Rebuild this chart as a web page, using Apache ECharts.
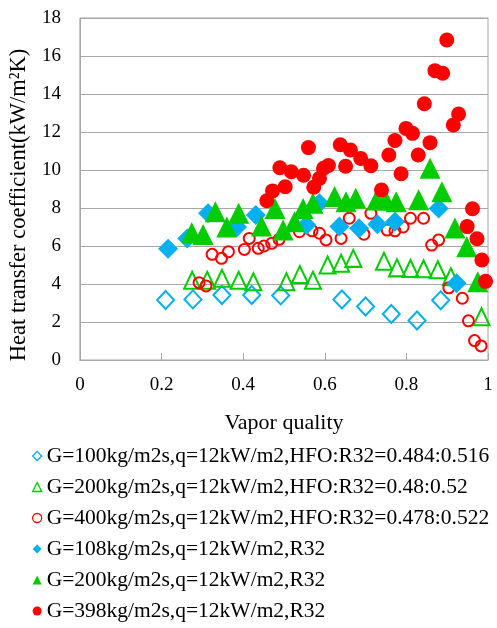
<!DOCTYPE html>
<html><head><meta charset="utf-8">
<script src="https://cdn.jsdelivr.net/npm/echarts@6/dist/echarts.min.js"></script>
<style>html,body{margin:0;padding:0;background:#fff}#c{width:497px;height:628px}</style>
</head><body><div id="c"></div>
<script>
var xTicks = [0, 0.2, 0.4, 0.6, 0.8, 1];
var yTicks = [0, 2, 4, 6, 8, 10, 12, 14, 16, 18];
var seriesNames = [
  'G=100kg/m2s,q=12kW/m2,HFO:R32=0.484:0.516',
  'G=200kg/m2s,q=12kW/m2,HFO:R32=0.48:0.52',
  'G=400kg/m2s,q=12kW/m2,HFO:R32=0.478:0.522',
  'G=108kg/m2s,q=12kW/m2,R32',
  'G=200kg/m2s,q=12kW/m2,R32',
  'G=398kg/m2s,q=12kW/m2,R32'
];
var mix100 = [[0.210,3.16],[0.277,3.19],[0.348,3.42],[0.421,3.42],[0.492,3.40],[0.642,3.18],[0.700,2.82],[0.763,2.42],[0.826,2.08],[0.884,3.14]];
var mix200 = [[0.275,4.2],[0.312,4.2],[0.348,4.3],[0.389,4.2],[0.425,4.12],[0.506,4.12],[0.539,4.5],[0.571,4.2],[0.607,5.0],[0.640,5.09],[0.670,5.35],[0.745,5.2],[0.777,4.85],[0.810,4.82],[0.842,4.8],[0.877,4.75],[0.909,4.38],[0.984,2.28]];
var mix400 = [[0.292,4.07],[0.309,3.9],[0.324,5.56],[0.347,5.35],[0.364,5.7],[0.403,5.82],[0.415,6.4],[0.437,5.88],[0.451,6.0],[0.470,6.14],[0.488,6.35],[0.538,6.75],[0.569,6.8],[0.587,6.67],[0.603,6.32],[0.640,6.4],[0.660,7.46],[0.696,6.62],[0.713,7.72],[0.753,6.84],[0.772,6.8],[0.792,7.0],[0.810,7.46],[0.842,7.46],[0.862,6.05],[0.879,6.32],[0.904,3.8],[0.937,3.25],[0.952,2.06],[0.967,1.02],[0.983,0.74]];
var r32_108 = [[0.216,5.85],[0.263,6.4],[0.314,7.72],[0.385,7.0],[0.431,7.63],[0.555,7.1],[0.587,8.25],[0.636,7.02],[0.684,6.93],[0.729,7.15],[0.772,7.27],[0.879,7.98],[0.923,4.04]];
var r32_200 = [[0.274,6.7],[0.302,6.6],[0.332,7.8],[0.360,7.0],[0.389,7.72],[0.445,7.05],[0.478,7.98],[0.498,6.84],[0.526,7.28],[0.547,7.98],[0.571,8.25],[0.624,8.6],[0.652,8.33],[0.676,8.51],[0.727,8.42],[0.749,8.42],[0.775,8.33],[0.830,8.44],[0.858,10.09],[0.887,8.86],[0.919,6.95],[0.948,5.96],[0.975,4.12]];
var r32_398 = [[0.458,8.38],[0.472,8.9],[0.490,10.12],[0.503,9.12],[0.518,9.91],[0.548,9.72],[0.560,11.18],[0.573,9.09],[0.587,9.56],[0.597,10.09],[0.609,10.24],[0.638,11.33],[0.651,10.2],[0.663,11.05],[0.688,10.61],[0.713,10.22],[0.739,8.95],[0.757,10.79],[0.772,11.55],[0.787,9.8],[0.799,12.19],[0.815,11.93],[0.829,10.79],[0.844,13.49],[0.858,11.44],[0.870,15.23],[0.889,15.09],[0.899,16.84],[0.915,12.37],[0.928,12.95],[0.949,7.02],[0.962,7.96],[0.973,6.38],[0.985,5.26],[0.994,4.14]];

var BLUE = '#00b0f0', GREEN = '#00cc00', RED = '#ff0000';
var FONT = '"Liberation Serif", "Times New Roman", serif';
function hollow(name, data, symbol, size, color) {
  return {name: name, type: 'scatter', data: data, symbol: symbol, symbolSize: size,
    itemStyle: {color: 'rgba(255,255,255,0)', borderColor: color, borderWidth: 2, opacity: 1}};
}
function filled(name, data, symbol, size, color) {
  return {name: name, type: 'scatter', data: data, symbol: symbol, symbolSize: size,
    itemStyle: {color: color, opacity: 1}};
}
var chart = echarts.init(document.getElementById('c'), null, {renderer: 'canvas'});
chart.setOption({
  animation: false,
  backgroundColor: '#fff',
  grid: {left: 77, right: 9, top: 18, bottom: 268, show: true, borderColor: '#a6a6a6', borderWidth: 1},
  xAxis: {
    type: 'value', min: xTicks[0], max: xTicks[xTicks.length - 1], interval: 0.2,
    name: 'Vapor quality', nameLocation: 'middle', nameGap: 52,
    nameTextStyle: {fontFamily: FONT, fontSize: 22, color: '#000'},
    axisLine: {show: true, lineStyle: {color: '#a6a6a6', width: 1}},
    axisTick: {show: true, inside: true, length: 7, lineStyle: {color: '#a6a6a6'}},
    axisLabel: {fontFamily: FONT, fontSize: 19, color: '#000', margin: 16,
      formatter: function (v) { return xTicks.indexOf(Math.round(v * 10) / 10) >= 0 ? String(Math.round(v * 10) / 10) : ''; }},
    splitLine: {show: false}
  },
  yAxis: {
    type: 'value', min: yTicks[0], max: yTicks[yTicks.length - 1], interval: 2,
    name: 'Heat transfer coefficient(kW/m\u00b2K)', nameLocation: 'middle', nameGap: 40, nameRotate: 90,
    nameTextStyle: {fontFamily: FONT, fontSize: 22.5, color: '#000', padding: [0, 32, 0, 0]},
    axisLine: {show: true, lineStyle: {color: '#a6a6a6', width: 1}},
    axisTick: {show: false},
    axisLabel: {fontFamily: FONT, fontSize: 19, color: '#000', margin: 19},
    splitLine: {show: true, lineStyle: {color: '#a6a6a6', width: 1}}
  },
  legend: {
    orient: 'vertical', left: 32, top: 445, itemWidth: 9, itemHeight: 9, itemGap: 9, padding: 0,
    textStyle: {fontFamily: FONT, fontSize: 21.5, color: '#000', lineHeight: 21},
    data: seriesNames.map(function (n, i) {
      return i < 3 ? {name: n, itemStyle: {borderWidth: 1.3}} : {name: n};
    })
  },
  series: [
    hollow(seriesNames[0], mix100, 'diamond', [17, 18], BLUE),
    hollow(seriesNames[1], mix200, 'triangle', [16, 17], GREEN),
    hollow(seriesNames[2], mix400, 'circle', 11, RED),
    filled(seriesNames[3], r32_108, 'diamond', [20, 20], BLUE),
    filled(seriesNames[4], r32_200, 'triangle', [21, 21], GREEN),
    filled(seriesNames[5], r32_398, 'circle', 15, RED)
  ]
});
</script></body></html>
